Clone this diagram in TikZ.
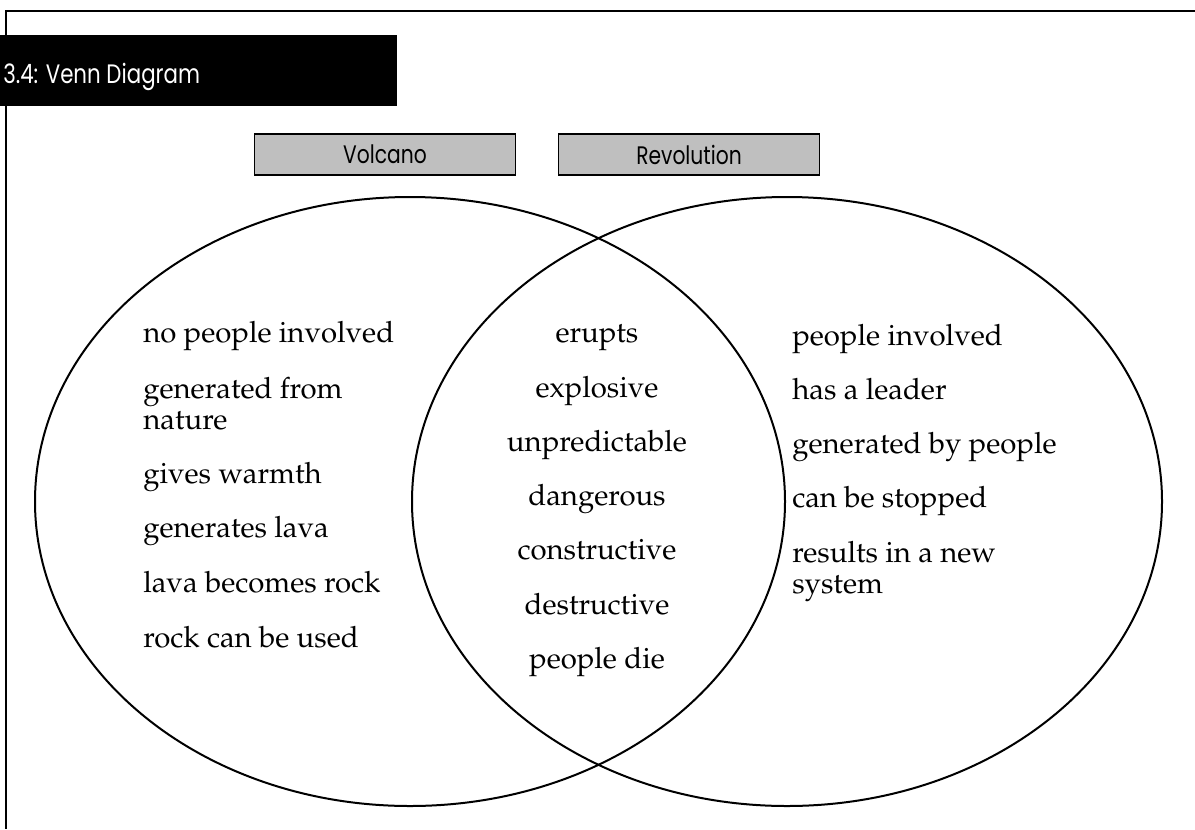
\documentclass[tikz,border=0pt]{standalone}
\usepackage[T1]{fontenc}
\usepackage{fontspec}
\newfontfamily\hdrfont[FakeStretch=0.8]{Poppins}
\newcommand\palfont{\fontencoding{T1}\fontfamily{ppl}\selectfont}
\usetikzlibrary{shapes.geometric}
\begin{document}
\begin{tikzpicture}[x=0.75pt,y=-0.75pt,
  frame/.style={line width=1.9pt},
  venn/.style={draw, ellipse, line width=1.5pt, inner sep=0pt},
  label box/.style={draw, line width=1.2pt, fill=black!25, inner sep=0pt,
    minimum width=196pt, minimum height=30.75pt, font=\hdrfont\fontsize{19}{20}\selectfont},
  item/.style={anchor=base west, inner sep=0pt, font=\palfont\fontsize{22}{23.25}\selectfont},
  mid/.style={anchor=base, inner sep=0pt, font=\palfont\fontsize{22}{23.25}\selectfont}]
\useasboundingbox (0,0) rectangle (1195,829);
% frame
\coordinate (f1) at (6,829);
\coordinate (f2) at (6,11);
\coordinate (f3) at (1195,11);
\coordinate (f4) at (6,106);
\coordinate (f5) at (6,35);
\draw[frame] (f4) -- (f1);
\draw[frame] (f5) -- (f2) -- (f3);
% header
\fill[black] (0,35) rectangle (397,106);
\node[anchor=base west, inner sep=0pt, text=white, font=\hdrfont\fontsize{20}{22}\selectfont] (hdr) at (3,83) {3.4: Venn Diagram};
% ellipses
\node[venn, minimum width=562.5pt, minimum height=456.75pt] (L) at (410,501.5) {};
\node[venn, minimum width=562.5pt, minimum height=456.75pt] (R) at (787,501.5) {};
% title boxes
\node[label box] (vol) at (385,154.5) {Volcano};
\node[label box] (rev) at (689,154.5) {Revolution};
% left items
\node[item] (l1) at (143,342) {no people involved};
\node[item] (l2) at (143,398) {generated from};
\node[item] (l2b) at (143,429) {nature};
\node[item] (l3) at (143,483) {gives warmth};
\node[item] (l4) at (143,537) {generates lava};
\node[item] (l5) at (143,592) {lava becomes rock};
\node[item] (l6) at (143,647) {rock can be used};
% middle items
\node[mid] (m1) at (597,342) {erupts};
\node[mid] (m2) at (597,397) {explosive};
\node[mid] (m3) at (597,451) {unpredictable};
\node[mid] (m4) at (597,505) {dangerous};
\node[mid] (m5) at (597,559) {constructive};
\node[mid] (m6) at (597,614) {destructive};
\node[mid] (m7) at (597,668) {people die};
% right items
\node[item] (r1) at (792,345) {people involved};
\node[item] (r2) at (792,399) {has a leader};
\node[item] (r3) at (792,453) {generated by people};
\node[item] (r4) at (792,507) {can be stopped};
\node[item] (r5) at (792,562) {results in a new};
\node[item] (r5b) at (792,593) {system};
\end{tikzpicture}
\end{document}
